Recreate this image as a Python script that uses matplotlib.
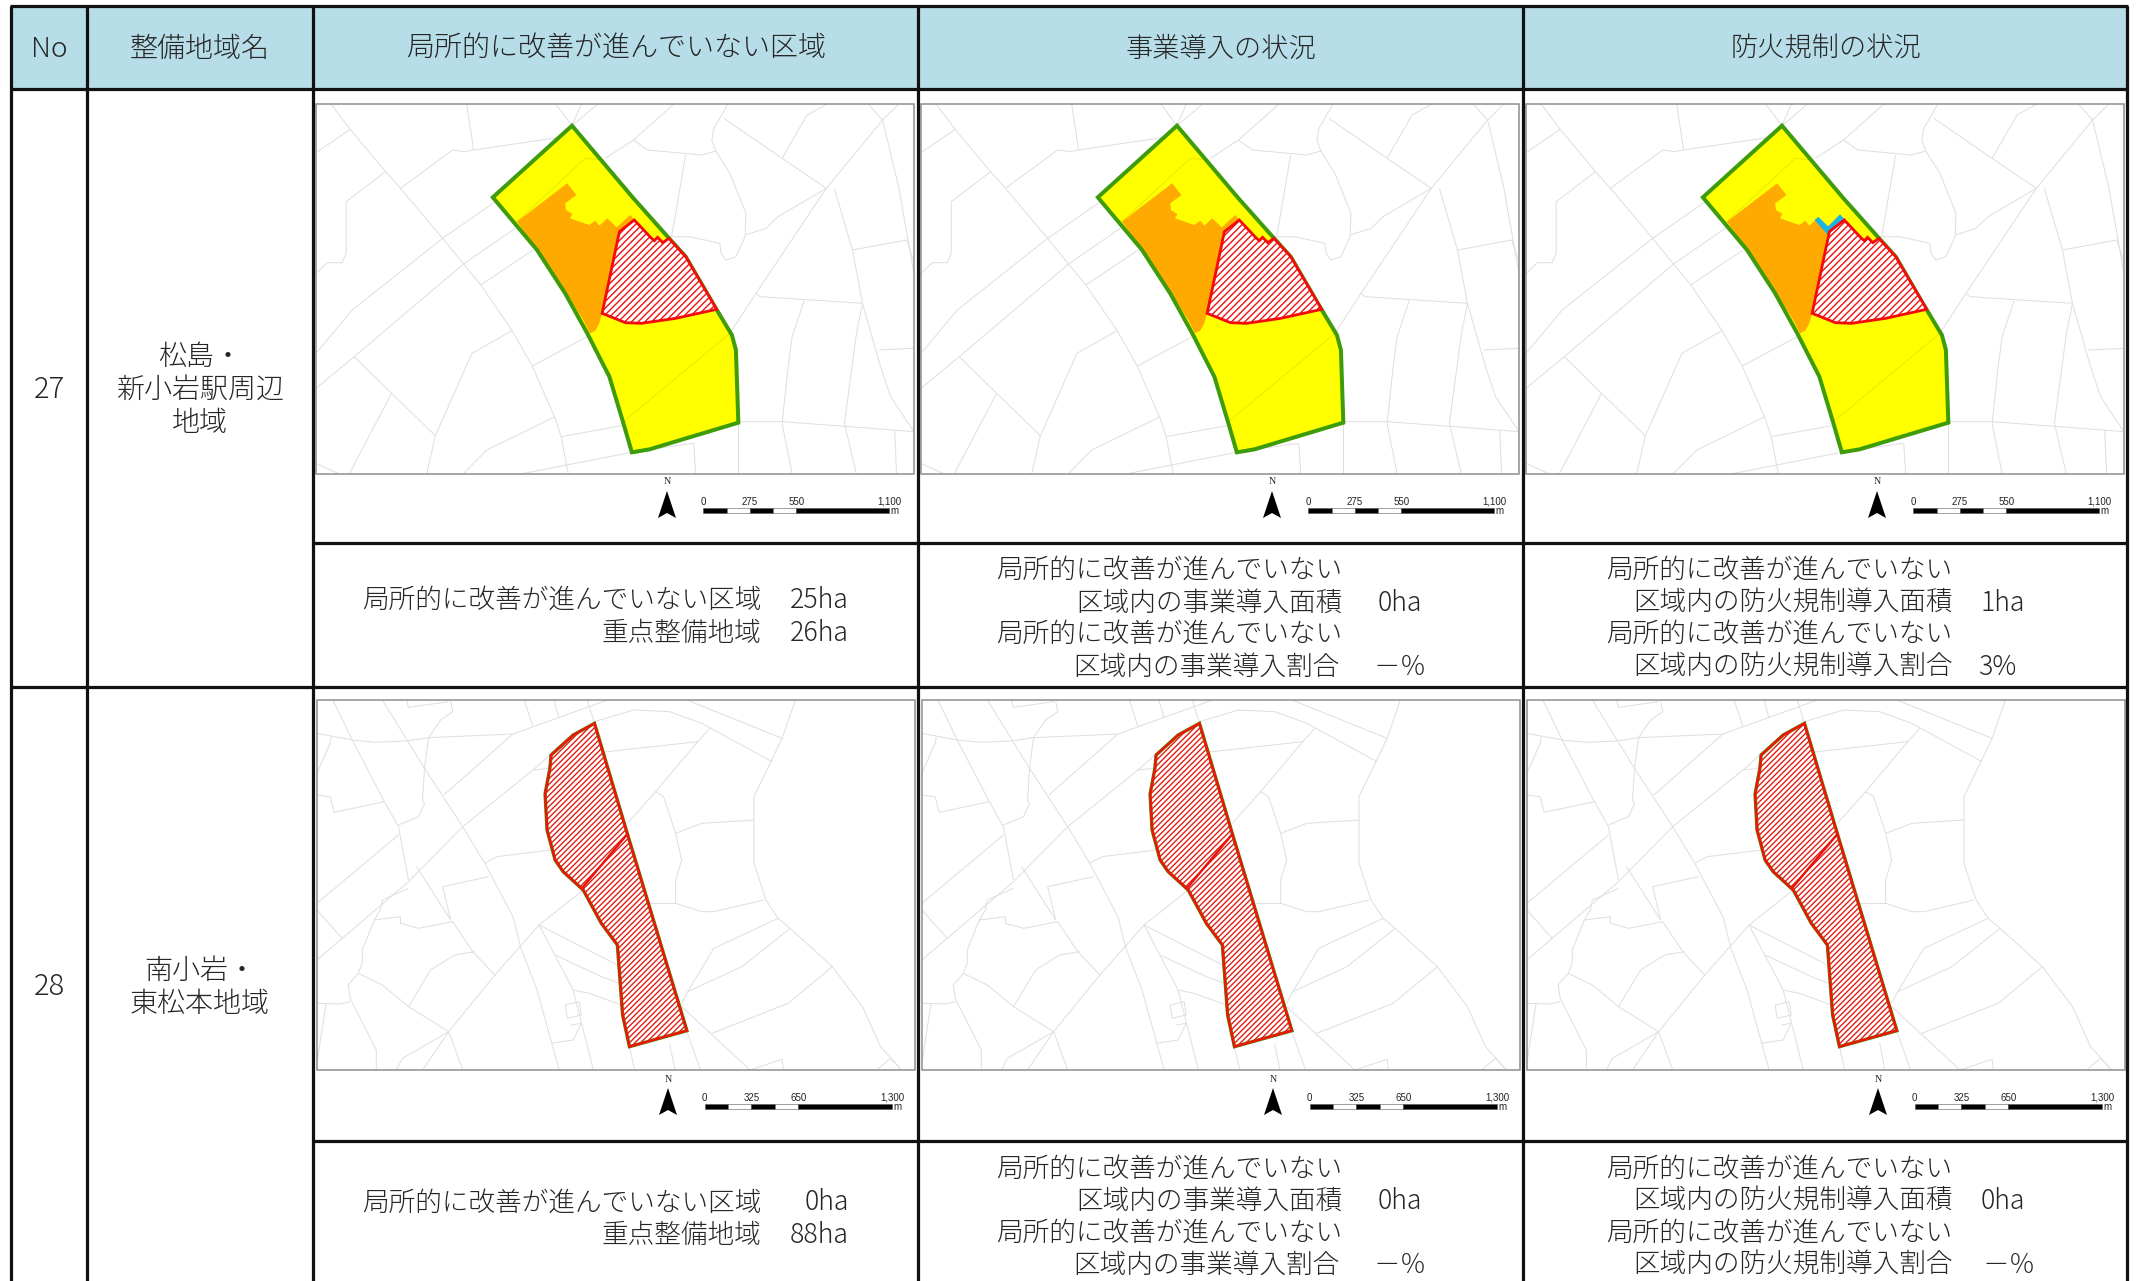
import matplotlib
matplotlib.use("Agg")
import matplotlib.pyplot as plt
from matplotlib.patches import Polygon, Rectangle

W, H = 2137, 1281
JP = ['Noto Sans CJK JP', 'DejaVu Sans']
plt.rcParams['font.family'] = JP
plt.rcParams['hatch.linewidth'] = 1.0

# ---------- table content ----------
headers = ["No", "整備地域名", "局所的に改善が進んでいない区域", "事業導入の状況", "防火規制の状況"]
header_sizes = [20.2, 20.2, 20.2, 19.6, 19.6]
numbers = ["27", "28"]
area_names = [["松島・", "新小岩駅周辺", "地域"], ["南小岩・", "東松本地域"]]
line1 = "局所的に改善が進んでいない"
label_local = "局所的に改善が進んでいない区域"
label_focus = "重点整備地域"
biz_area = "区域内の事業導入面積"
biz_rate = "区域内の事業導入割合"
fire_area = "区域内の防火規制導入面積"
fire_rate = "区域内の防火規制導入割合"
local_values = [["25ha", "26ha"], ["0ha", "88ha"]]
biz_values = [["0ha", "－％"], ["0ha", "－％"]]
fire_values = [["1ha", "3%"], ["0ha", "－％"]]
scale_labels = [["0", "275", "550", "1,100"], ["0", "325", "650", "1,300"]]

# ---------- map geometry (crop coordinates) ----------
roads_a = [
    [(78,43),(125,118),(213,245),(250,295),(355,445),(407,522),(450,585),(528,722),(578,828),(635,985),(650,1040),(668,1153)],
    [(40,188),(125,118)], [(415,43),(432,180)],
    [(250,295),(380,180),(410,185),(432,180),(640,143)],
    [(637,43),(677,107),(700,43)], [(677,107),(740,43)],
    [(213,245),(115,335),(115,490),(105,518),(68,518),(40,550)],
    [(40,790),(130,660),(355,445),(540,290),(620,215)],
    [(40,895),(135,800),(228,910),(337,1037),(315,1153)], [(228,910),(122,1153)],
    [(135,800),(407,522),(590,370)], [(450,585),(580,480)], [(578,828),(715,740)],
    [(428,790),(528,722)], [(428,790),(337,1037)], [(40,1120),(100,1153)],
    [(405,1153),(465,1080),(635,980)], [(545,1153),(825,1087)], [(650,1040),(810,1005)],
    [(1070,730),(1135,610),(1310,295),(1450,90),(1490,43)],
    [(760,205),(830,150),(930,43)],
    [(830,150),(865,180),(1000,195),(1035,183),(1025,150),(1030,115),(1065,43)],
    [(1055,85),(1200,205),(1310,295)], [(960,195),(925,440)],
    [(1035,183),(1070,250),(1110,370),(1108,440),(1085,500),(1060,510),(1048,490),(1045,460),(970,440),(920,440)],
    [(1108,435),(1160,415),(1190,380),(1310,295)], [(1200,205),(1262,75),(1310,43)],
    [(1415,43),(1450,90),(1490,290),(1528,550)],
    [(1330,295),(1375,480),(1400,640),(1445,830),(1470,920),(1528,1025)],
    [(1375,480),(1510,450),(1528,515)], [(1135,610),(1145,620),(1400,640)],
    [(1255,632),(1225,740),(1215,830),(1200,1000),(1225,1153)],
    [(1400,640),(1385,730),(1355,1000),(1385,1153)], [(1440,780),(1528,775)],
    [(1090,995),(1200,995),(1400,1013),(1528,1025)],
    [(980,1060),(985,1153)], [(1090,1000),(1090,1153)], [(1480,1020),(1485,1153)],
    [(870,1078),(980,1060)],
]
inner_a = [[(810,990),(1070,730)], [(540,395),(710,205),(755,210)]]
outer_a = [(677,107),(830,325),(915,440),(960,500),(1035,655),(1075,735),(1085,780),(1091,998),
           (870,1078),(826,1087),(805,1000),(770,860),(715,730),(660,610),(590,480),(480,322)]
orange_a = [(540,395),(665,280),(688,315),(660,340),(662,360),(678,372),(672,385),(720,405),(735,392),
            (745,407),(765,385),(788,412),(822,375),(832,390),(795,425),(752,670),(745,700),(735,722),
            (722,730),(705,690),(660,605),(590,480)]
red_a = [(832,390),(875,445),(882,452),(890,442),(903,458),(918,445),(960,500),(1037,658),(935,685),
         (850,700),(810,698),(752,670),(795,425)]
fire_blue = [(346,150),(355,143),(385,172),(420,135),(433,150),(388,197)]

roads_b = [
    [(82,30),(130,150),(210,335),(245,410),(270,570)],
    [(205,30),(310,235),(405,410),(460,520),(530,680),(550,775),(590,900),(645,1140)],
    [(42,130),(130,150),(190,157),(265,153),(320,143),(530,132),(765,30)],
    [(265,30),(270,52),(370,35)], [(375,35),(380,65),(350,90),(320,143),(310,235),(305,330),(310,340),(295,380),(245,405)],
    [(42,315),(75,320),(85,367),(210,335)], [(42,250),(75,160),(78,140)],
    [(42,640),(245,435)], [(42,810),(270,575),(405,410),(580,240),(620,235)], [(358,315),(530,132)],
    [(42,660),(105,745)], [(270,595),(205,630),(200,660),(185,690),(250,680),(250,700),(295,715),(380,695),(430,785),(485,855),(370,1025),(305,1140)],
    [(290,530),(375,690)],
    [(185,690),(155,780),(155,820),(145,850),(120,885),(125,925),(190,1080),(190,1140)],
    [(145,850),(205,885),(270,950),(370,1025),(405,1140)],
    [(270,950),(325,840),(385,795),(435,785)], [(42,940),(100,942),(125,935)], [(65,940),(42,1120)],
    [(485,855),(595,705),(705,600)], [(460,520),(490,500),(625,480)], [(355,590),(470,560)], [(355,590),(375,690)],
    [(595,705),(680,900),(730,1140)], [(595,705),(790,825)], [(635,795),(750,860),(795,880)],
    [(680,900),(720,910),(800,945)], [(660,945),(695,935),(700,975),(665,985),(660,945)],
    [(675,1005),(700,1000),(680,1050),(625,1060)], [(370,1025),(255,1105),(240,1140)],
    [(558,30),(580,110)], [(632,30),(645,85)], [(715,30),(733,100)],
    [(733,95),(830,60),(920,65),(1000,100),(1175,215)], [(963,30),(1200,145),(1233,30)],
    [(1200,145),(1130,320),(1130,520),(1160,630),(1190,685),(1220,715),(1325,830),(1400,950),(1445,1070),(1497,1140)],
    [(750,187),(990,155),(1020,115)], [(990,155),(885,305),(815,400)],
    [(885,305),(905,320),(935,430),(950,510),(935,570),(935,640),(1000,665),(1030,665),(1155,630)],
    [(935,430),(1000,400),(1130,390)], [(870,640),(935,640)],
    [(1190,685),(1030,775),(965,905)], [(1220,715),(1100,830),(965,905),(950,940)],
    [(1325,830),(1215,940),(1025,1030)], [(950,950),(1120,1140)], [(1120,1140),(1200,1108),(1203,1140)],
    [(820,1070),(833,1140)], [(920,1060),(933,1140)], [(963,1025),(997,1140)],
    [(1435,1140),(1470,1105),(1497,1140)], [(622,195),(580,240)],
]
red_b = [(733,100),(815,432),(963,1022),(820,1070),(803,975),(790,765),(750,700),(705,600),(655,545),
         (635,510),(615,420),(610,312),(622,235),(625,195),(680,135)]
divider_b = [(705,590),(815,432)]

panel_step = 605.0
fig = plt.figure(figsize=(W/100, H/100), dpi=100)
ax = fig.add_axes([0, 0, 1, 1])
ax.set_xlim(0, W); ax.set_ylim(H, 0); ax.axis('off')

def conv(pts, oy, dx=0.0):
    return [(x/2.489 + 300 + dx, y/3 + oy) for x, y in pts]

PX = 0.72
cols = [11, 87, 313, 917.5, 1523, 2127]
row_y = [6, 89, 543, 687, 1141, 1281]

ax.add_patch(Rectangle((cols[0], row_y[0]), cols[-1]-cols[0], row_y[1]-row_y[0], fc='#b7dde8', ec='none', zorder=1))

def draw_map(oy, dx, frame, roads):
    x0, x1, y0, y1 = frame
    clip = Rectangle((x0+dx, y0), x1-x0, y1-y0, transform=ax.transData)
    for r in roads:
        xs, ys = zip(*conv(r, oy, dx))
        l, = ax.plot(xs, ys, color='#dfdfdf', lw=1.0*PX, zorder=2, solid_capstyle='butt')
        l.set_clip_path(clip)
    ax.add_patch(Rectangle((x0+dx, y0), x1-x0, y1-y0, fc='none', ec='#8c8c8c', lw=1.5*PX, zorder=9))

def draw_scale(dx, xb0, xb1, yb, labels, xn, ya):
    b = [xb0 + (xb1-xb0)*t for t in (0, 0.127, 0.25, 0.375, 0.5, 1.0)]
    fills = ['k', 'w', 'k', 'w', 'k']
    for i in range(5):
        ax.add_patch(Rectangle((b[i]+dx, yb), b[i+1]-b[i], 5, fc=fills[i], ec='#555555', lw=0.4, zorder=10))
    for t, s in zip((0, 0.25, 0.5, 1.0), labels):
        ax.text(xb0+(xb1-xb0)*t+dx, yb-6, s, fontsize=7, ha='center', va='center',
                family='Liberation Sans', color='#222222', zorder=10)
    ax.text(xb1+5+dx, yb+3, 'm', fontsize=7, ha='center', va='center',
            family='Liberation Sans', color='#222222', zorder=10)
    ax.text(xn+dx, ya-9, 'N', fontsize=7.2, ha='center', va='center', family='Liberation Serif', color='#222222', zorder=10)
    ax.add_patch(Polygon([(xn+dx, ya), (xn-9+dx, ya+27), (xn+dx, ya+22), (xn+9+dx, ya+27)],
                         closed=True, fc='k', ec='none', zorder=10))

frame_a = (316, 913.5, 104.3, 474.3)
frame_b = (317, 915, 700, 1070)
for p in range(3):
    dx = p*panel_step
    draw_map(90, dx, frame_a, roads_a)
    ax.add_patch(Polygon(conv(outer_a, 90, dx), closed=True, fc='#ffff00', ec='none', zorder=3))
    for r in inner_a:
        xs, ys = zip(*conv(r, 90, dx))
        ax.plot(xs, ys, color='#e9e900', lw=1.0*PX, zorder=3.2)
    ax.add_patch(Polygon(conv(orange_a, 90, dx), closed=True, fc='#ffaa00', ec='none', zorder=3.5))
    if p == 2:
        pts = [(x/3 + 1700, y/3 + 170) for x, y in fire_blue]
        ax.add_patch(Polygon(pts, closed=True, fc='#19b3e6', ec='#19b3e6', lw=0.8, zorder=3.7))
    ax.add_patch(Polygon(conv(outer_a, 90, dx), closed=True, fc='none', ec='#3d9c08', lw=4.0*PX, joinstyle='miter', zorder=4))
    ax.add_patch(Polygon(conv(red_a, 90, dx), closed=True, fc='white', ec='none', zorder=5))
    ax.add_patch(Polygon(conv(red_a, 90, dx), closed=True, fc='none', ec='#f01010', hatch='/////', lw=0, zorder=5.2))
    ax.add_patch(Polygon(conv(red_a, 90, dx), closed=True, fc='none', ec='#f50a0a', lw=2.8*PX, zorder=5.5))
    draw_scale(dx, 703.3, 889, 508, scale_labels[0], 667, 491)

    draw_map(690, dx, frame_b, roads_b)
    ax.add_patch(Polygon(conv(red_b, 690, dx), closed=True, fc='white', ec='#3d9c08', lw=3.4*PX, zorder=4))
    ax.add_patch(Polygon(conv(red_b, 690, dx), closed=True, fc='none', ec='#e02018', hatch='//////', lw=0, zorder=5.2))
    ax.add_patch(Polygon(conv(red_b, 690, dx), closed=True, fc='none', ec='#f01408', lw=2.4*PX, zorder=5.5))
    xs, ys = zip(*conv(divider_b, 690, dx))
    ax.plot(xs, ys, color='#e8140a', lw=2.4*PX, zorder=5.5)
    draw_scale(dx, 704.6, 892, 1104, scale_labels[1], 668, 1088)

# grid lines
LW = 3.2*PX
for x in cols:
    ax.plot([x, x], [row_y[0], row_y[-1]], color='#111111', lw=LW, zorder=12, solid_capstyle='butt')
for y in (row_y[0], row_y[1], row_y[3]):
    ax.plot([cols[0]-1, cols[-1]+1], [y, y], color='#111111', lw=LW, zorder=12, solid_capstyle='butt')
for y in (row_y[2], row_y[4]):
    ax.plot([cols[2], cols[-1]], [y, y], color='#111111', lw=LW, zorder=12, solid_capstyle='butt')

FS = 19.2
HS = 20.2
TC = '#262626'
def T(x, y, s, ha='center', fs=FS):
    ax.text(x + (1 if ha == 'right' else 0), y + 3, s, fontsize=fs, ha=ha, va='center', color=TC,
            family=JP, fontweight='light', zorder=13)

hx = [49, 200, 616, 1221, 1826]
for x, s, fs in zip(hx, headers, header_sizes):
    T(x, 46, s, fs=fs)

T(49, 387, numbers[0], fs=21)
T(49, 984, numbers[1], fs=21)
for y, s in zip((354, 387, 420), area_names[0]):
    T(200, y, s, fs=HS)
for y, s in zip((968, 1001), area_names[1]):
    T(200, y, s, fs=HS)

k = 2137/1568
for r, (yl, ys) in enumerate(((438, (416, 440, 463, 487)), (880, (855, 879, 902, 926)))):
    T(558*k, yl*k, label_local, ha='right')
    T(622*k, yl*k, local_values[r][0], ha='right')
    T(558*k, (yl+24)*k, label_focus, ha='right')
    T(622*k, (yl+24)*k, local_values[r][1], ha='right')
    # business column
    T(984*k, ys[0]*k, line1, ha='right')
    T(984*k, ys[1]*k, biz_area, ha='right')
    T(1043*k, ys[1]*k, biz_values[r][0], ha='right')
    T(984*k, ys[2]*k, line1, ha='right')
    T(982*k, ys[3]*k, biz_rate, ha='right')
    T(1046*k, ys[3]*k, biz_values[r][1], ha='right')
    # fire column
    T(1432*k, ys[0]*k, line1, ha='right')
    T(1432*k, ys[1]*k, fire_area, ha='right')
    T(1485*k, ys[1]*k, fire_values[r][0], ha='right')
    T(1432*k, ys[2]*k, line1, ha='right')
    T(1432*k, ys[3]*k, fire_rate, ha='right')
    T((1479 if r == 0 else 1493)*k, ys[3]*k, fire_values[r][1], ha='right')

fig.savefig('out.png', dpi=100, facecolor='white')
